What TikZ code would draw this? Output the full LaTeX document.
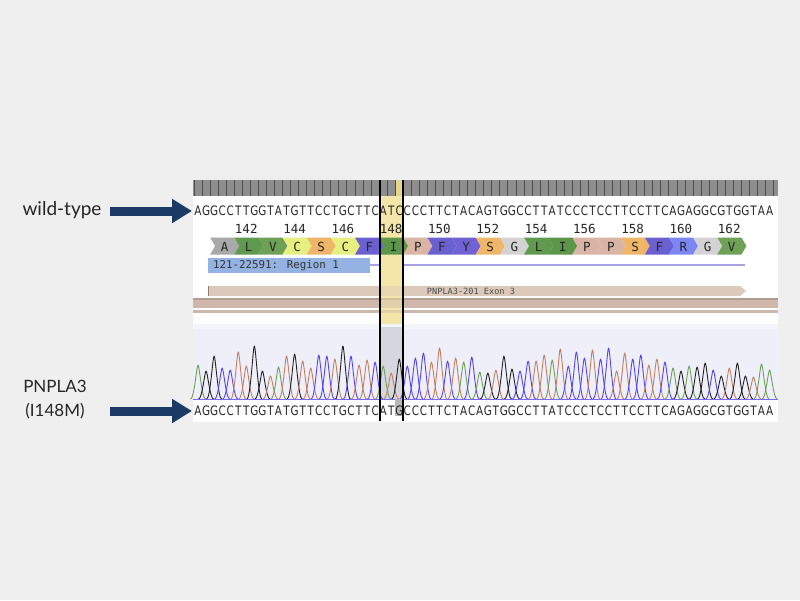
\documentclass[tikz,border=0pt]{standalone}
\usepackage{fontspec}
\setmainfont{Lato}
\newfontfamily\seqfont[FakeStretch=0.8]{DejaVu Sans}
\newfontfamily\monofont{DejaVu Sans Mono}
\usetikzlibrary{arrows.meta}
\definecolor{bg}{HTML}{EFEFEF}
\definecolor{rulergray}{HTML}{8E8E8E}
\definecolor{tickc}{HTML}{4E4E4E}
\definecolor{colyel}{HTML}{F4E6A9}
\definecolor{rulyel}{HTML}{E6D68C}
\definecolor{colgray}{HTML}{D6D6E0}
\definecolor{lav}{HTML}{EFEFFA}
\definecolor{navy}{HTML}{1C3A66}
\definecolor{regblue}{HTML}{94B3E2}
\definecolor{regline}{HTML}{A7A2E0}
\definecolor{exon}{HTML}{DCC9BA}
\definecolor{exonedge}{HTML}{8E7D6E}
\definecolor{band}{HTML}{CFB8AB}
\definecolor{banddark}{HTML}{B29C8E}
\definecolor{baseA}{HTML}{6F9F55}
\definecolor{baseC}{HTML}{5544EE}
\definecolor{baseG}{HTML}{222222}
\definecolor{baseT}{HTML}{C0805F}
\definecolor{aaA}{HTML}{A9A9A9}
\definecolor{aaL}{HTML}{5F9A4E}
\definecolor{aaV}{HTML}{6EA055}
\definecolor{aaC}{HTML}{E6EF80}
\definecolor{aaS}{HTML}{EFB568}
\definecolor{aaF}{HTML}{6B60D0}
\definecolor{aaI}{HTML}{5B9649}
\definecolor{aaP}{HTML}{DAB4A4}
\definecolor{aaY}{HTML}{7062D4}
\definecolor{aaG}{HTML}{D3D3D3}
\definecolor{aaR}{HTML}{7C86F2}
\tikzset{
  seqtxt/.style={inner sep=0pt, font=\seqfont\fontsize{13}{13}\selectfont, text=black!85},
  numtxt/.style={inner sep=0pt, font=\monofont\fontsize{12.5}{13}\selectfont, text=black!85},
  aatxt/.style={inner sep=0pt, font=\monofont\fontsize{12.5}{12}\selectfont, text=black!85},
  lbl/.style={inner sep=0pt, font=\fontsize{17}{24}\selectfont, text=black!85},
  peak/.style={line width=0.9pt, line join=round},
  bigarrow/.style={navy, line width=9pt, -{Triangle[length=20pt,width=23pt]}},
  vline/.style={black, line width=1.6pt}
}
\begin{document}
\begin{tikzpicture}[x=1pt,y=-1pt]
\useasboundingbox (0,0) rectangle (800,600);
\fill[bg] (0,0) rectangle (800,600);
\fill[white] (193,180) rectangle (778,422);
% ruler
\fill[rulergray] (193,180) rectangle (778,196);
\fill[rulyel] (395.3,180) rectangle (403,196);
\foreach \i in {0,...,72} \draw[tickc, line width=1pt] ({194+8.05*\i},180) -- ({194+8.05*\i},196);
% highlight column
\fill[colyel] (380,196) rectangle (403,327);
% top sequence
\foreach \c [count=\i from 0] in {A,G,G,C,C,T,T,G,G,T,A,T,G,T,T,C,C,T,G,C,T,T,C,A,T,C,C,C,C,T,T,C,T,A,C,A,G,T,G,G,C,C,T,T,A,T,C,C,C,T,C,C,T,T,C,C,T,T,C,A,G,A,G,G,C,G,T,G,G,T,A,A}
  \node[seqtxt] (t\i) at ({198.03+8.05*\i},211) {\c};
% numbers
\foreach \n [count=\j from 0] in {142,144,...,162}
  \node[numtxt] (n\n) at ({222.1+24.15*(1+2*\j)},229) {\n};
% amino acids
\foreach \a [count=\k from 0] in {A,L,V,C,S,C,F,I,P,F,Y,S,G,L,I,P,P,S,F,R,G,V}{
  \pgfmathsetmacro\xa{210.1+24.15*\k}
  \fill[aa\a] (\xa,237.5) -- ({\xa+24.15},237.5) -- ({\xa+29.15},246) -- ({\xa+24.15},254.5) -- (\xa,254.5) -- ({\xa+5},246) -- cycle;
  \node[aatxt] (aa\k) at ({\xa+14.5},246.5) {\a};
}
% region bar
\fill[regline] (370,263.5) rectangle (380,266);
\fill[regline] (403,263.5) rectangle (745,266);
\fill[regblue] (208,258) rectangle (370,273);
\node[inner sep=0pt, anchor=west, font=\monofont\fontsize{10.8}{11}\selectfont, text=black!80] (reg) at (213,266) {121-22591: Region 1};
% exon bar
\fill[exon] (208,286) -- (740,286) -- (746,291) -- (740,296) -- (208,296) -- cycle;
\draw[exonedge, line width=1pt] (208.5,286) -- (208.5,296);
\node[inner sep=0pt, font=\monofont\fontsize{8.6}{9}\selectfont, text=black!70] (ex) at (471,291) {PNPLA3-201 Exon 3};
% tan band
\fill[band] (193,298) rectangle (778,308);
\fill[banddark] (193,298) rectangle (778,300);
\fill[band] (193,310) rectangle (778,312.5);
\fill[colyel, opacity=0.5] (380,284) rectangle (403,313);
% chromatogram background
\fill[lav] (193,329) rectangle (778,399);
\fill[lav!70!white] (193,324) rectangle (778,329);
\fill[colgray] (380,327) rectangle (403,400);
% peaks
\foreach \c/\h [count=\i from 0] in {A/34,G/28,G/43,C/31,C/29,T/47,T/33,G/53,G/28,T/23,A/32,T/43,G/45,T/38,T/31,C/44,C/43,T/40,G/53,C/43,T/34,T/39,C/37,A/33,T/26,G/40,C/33,C/41,C/46,T/37,T/51,C/38,T/41,A/37,C/42,A/27,G/26,T/29,G/43,G/30,C/28,C/38,T/38,T/44,A/39,T/50,C/33,C/47,C/41,T/49,C/40,C/51,T/28,T/46,C/40,C/44,T/34,T/40,C/37,A/31,G/28,A/33,G/32,G/36,C/29,G/23,T/31,G/36,G/23,T/22,A/35,A/29}{
  \pgfmathsetmacro\xc{198.03+8.05*\i}
  \pgfmathsetmacro\yt{399-\h}
  \draw[peak, draw=base\c] ({\xc-7.5},399) .. controls ({\xc-3.8},399) and ({\xc-1.4},\yt) .. (\xc,\yt) .. controls ({\xc+1.4},\yt) and ({\xc+3.8},399) .. ({\xc+7.5},399);
}
\draw[baseC!80!white, line width=1pt] (193,399) -- (778,399);
% bottom sequence
\fill[black!28] (395.3,399) rectangle (403,416);
\foreach \c [count=\i from 0] in {A,G,G,C,C,T,T,G,G,T,A,T,G,T,T,C,C,T,G,C,T,T,C,A,T,G,C,C,C,T,T,C,T,A,C,A,G,T,G,G,C,C,T,T,A,T,C,C,C,T,C,C,T,T,C,C,T,T,C,A,G,A,G,G,C,G,T,G,G,T,A,A}
  \node[seqtxt] (b\i) at ({198.03+8.05*\i},411) {\c};
% black column lines
\coordinate (l1t) at (380,180); \coordinate (l1b) at (380,421);
\coordinate (l2t) at (403,180); \coordinate (l2b) at (403,421);
\draw[vline] (l1t) -- (l1b);
\draw[vline] (l2t) -- (l2b);
% labels and arrows
\node[lbl, font=\fontsize{19}{24}\selectfont] (wt) at (62,210) {wild-type};
\node[lbl, align=center] (mut) at (55,400) {PNPLA3\\(I148M)};
\coordinate (wa) at (110,211); \coordinate (wb) at (192,211);
\coordinate (ma) at (110,411); \coordinate (mb) at (192,411);
\draw[bigarrow] (wa) -- (wb);
\draw[bigarrow] (ma) -- (mb);
\end{tikzpicture}
\end{document}
